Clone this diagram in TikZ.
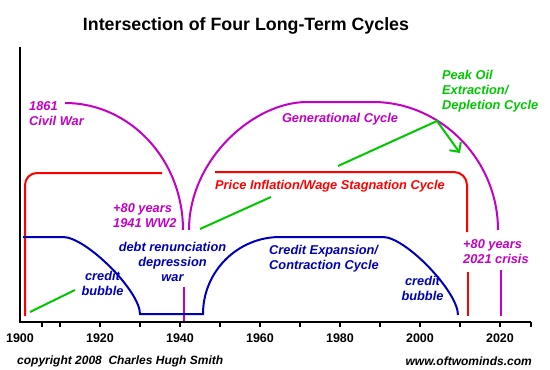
\documentclass[tikz,border=0pt]{standalone}
\usepackage{fontspec}
\setmainfont{Liberation Sans}
\usetikzlibrary{arrows.meta}
\definecolor{cmag}{RGB}{195,0,195}
\definecolor{cblue}{RGB}{0,0,185}
\definecolor{cgreen}{RGB}{0,200,0}
\definecolor{cred}{RGB}{255,0,0}
\tikzset{
  lbl/.style={inner sep=0pt, font=\fontsize{12.8}{15}\selectfont\bfseries\itshape},
  axlbl/.style={inner sep=0pt, font=\fontsize{12.5}{15}\selectfont\bfseries},
  curve/.style={line width=2pt},
  axisline/.style={line width=2pt, black},
  axtick/.style={line width=1.5pt, black},
  vmark/.style={line width=2pt}
}
\begin{document}
\begin{tikzpicture}[x=1pt,y=-1pt]
\path[use as bounding box, fill=white] (0,0) rectangle (550,370);

% title
\node[inner sep=0pt, font=\fontsize{17.8}{20}\selectfont\bfseries] (title) at (246,26) {Intersection of Four Long-Term Cycles};

% axes
\coordinate (ytop) at (20,47);
\coordinate (orig) at (20,322);
\coordinate (xend) at (531,322);
\draw[axisline] (ytop) -- (orig) -- (xend);
\foreach \t in {42,60,100,...,500,531} \draw[axtick] (\t,322) -- (\t,327);
\foreach \yr [count=\i from 0] in {1900,1920,1940,1960,1980,2000,2020}
  \node[axlbl] (yr\yr) at (20+80*\i,338) {\yr};

% Civil War arc (magenta)
\draw[curve, cmag] (65,103) .. controls (130.2,103) and (183,159.9) .. (183,230);
% Generational cycle
\draw[curve, cmag] (189,230) .. controls (189,159.9) and (253.2,102) .. (307,102)
  -- (373,102) .. controls (441,102) and (498,159.9) .. (498,230);
% magenta ticks
\draw[vmark, cmag] (184,287) -- (184,321);
\draw[vmark, cmag] (501,270) -- (501,316);

% Price inflation (red)
\draw[curve, cred, rounded corners=12pt] (162,173) -- (25,173) -- (25,316);
\draw[curve, cred, rounded corners=13pt] (215,172) -- (467,172) -- (467,232);
\draw[vmark, cred] (468,272) -- (468,316);

% Credit cycle (blue)
\draw[curve, cblue] (23,237) -- (63,237) .. controls (86,237) and (140,291) .. (140,314)
  -- (203,314) .. controls (203,271.5) and (237.5,237) .. (280,237)
  -- (383,237) .. controls (405.5,237) and (458,291.6) .. (458,315);

% green lines
\draw[curve, cgreen] (30,312) -- (75,290);
\draw[curve, cgreen] (200,229) -- (271,197);
\draw[curve, cgreen, -{Straight Barb[length=7pt,width=14pt]}] (338,166) -- (437,121) -- (460,153);

% labels
\node[lbl, cmag, anchor=west, align=left] (civil) at (29,113.5) {1861\\Civil War};
\node[lbl, cmag, anchor=west, align=left] (ww2) at (113,215.5) {+80 years\\1941 WW2};
\node[lbl, cmag] (gen) at (340,119) {Generational Cycle};
\node[lbl, cgreen, anchor=west, align=left] (oil) at (442,91) {Peak Oil\\Extraction/\\Depletion Cycle};
\node[lbl, cred, anchor=west] (price) at (215,186) {Price Inflation/Wage Stagnation Cycle};
\node[lbl, cblue, align=center] (debt) at (172.5,262) {debt renunciation\\depression\\war};
\node[lbl, cblue, align=center] (bub1) at (102.5,283) {credit\\bubble};
\node[lbl, cblue, anchor=west, align=left] (credexp) at (269,259) {Credit Expansion/\\Contraction Cycle};
\node[lbl, cblue, align=center] (bub2) at (422.5,288) {credit\\bubble};
\node[lbl, cmag, anchor=west, align=left] (crisis) at (463,251.5) {+80 years\\2021 crisis};

\node[lbl, black, font=\fontsize{12}{14}\selectfont\bfseries\itshape, anchor=west] (copy) at (17,361) {copyright 2008\ \ Charles Hugh Smith};
\node[lbl, black, font=\fontsize{12}{14}\selectfont\bfseries\itshape, anchor=east] (www) at (532,361) {www.oftwominds.com};
\end{tikzpicture}
\end{document}
